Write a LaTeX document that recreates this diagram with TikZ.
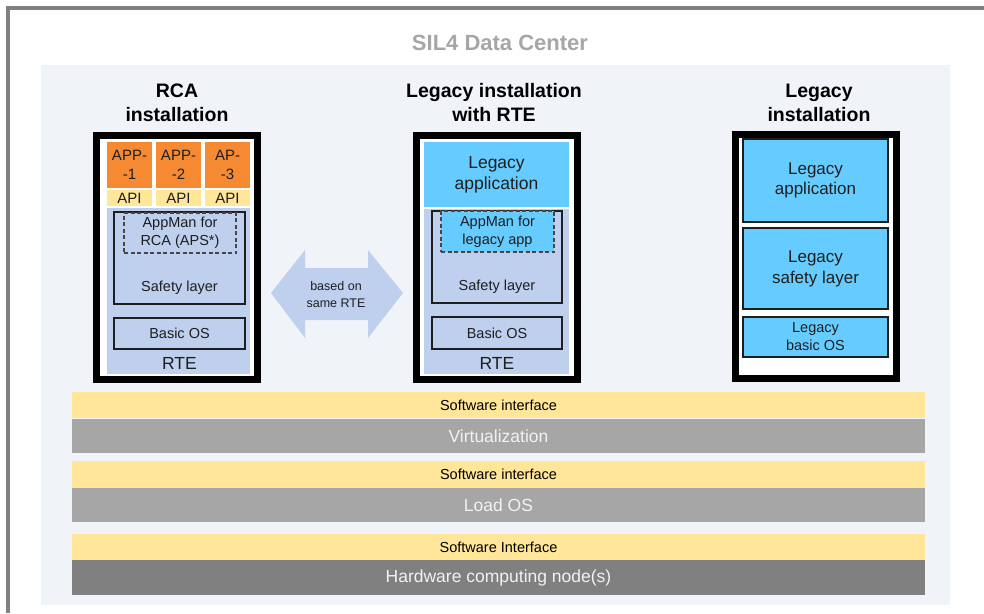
\documentclass[tikz,border=0pt]{standalone}
\usepackage{fontspec}
\setmainfont{Liberation Sans}
\usepackage{tikz}
\usetikzlibrary{positioning}

\definecolor{framegray}{RGB}{128,128,128}
\definecolor{panelbg}{RGB}{240,244,248}
\definecolor{titlegray}{RGB}{166,166,166}
\definecolor{rteblue}{RGB}{190,208,238}
\definecolor{legcyan}{RGB}{102,204,255}
\definecolor{apporange}{RGB}{246,138,51}
\definecolor{ifyellow}{RGB}{255,230,153}
\definecolor{layergray}{RGB}{166,166,166}
\definecolor{hwgray}{RGB}{128,128,128}
\definecolor{txtdark}{RGB}{30,30,30}

\newcommand{\fsz}[2]{\fontsize{#1}{#2}\selectfont}

\tikzset{
	blk/.style={inner sep=0pt, outer sep=0pt, anchor=north west, align=center, text=txtdark, font=\fsz{14.5}{18}},
	instframe/.style={blk, draw=black, line width=7pt, fill=white, minimum width=161pt, minimum height=244pt},
	headline/.style={align=center, inner sep=0pt, font=\bfseries\fsz{19.5}{24}, text=black},
	appbox/.style={blk, fill=apporange, minimum width=45pt, minimum height=46pt, font=\fsz{15}{19}},
	apibox/.style={blk, fill=ifyellow, minimum width=45pt, minimum height=16pt, font=\fsz{15}{18}},
	rtearea/.style={blk, fill=rteblue, minimum width=143pt, minimum height=166pt},
	thinbox/.style={blk, draw=txtdark, line width=1.2pt},
	dashbox/.style={thinbox, draw={rgb,255:red,70;green,70;blue,70}, dash pattern=on 4pt off 2.5pt},
	cyanbox/.style={thinbox, fill=legcyan, minimum width=145pt},
	lbl/.style={inner sep=0pt, outer sep=0pt, align=center, text=txtdark, font=\fsz{14.5}{18}},
	rtelbl/.style={lbl, font=\fsz{17.5}{21}},
	ifband/.style={blk, fill=ifyellow, minimum width=853pt, text=black},
	layerband/.style={blk, fill=layergray, minimum width=853pt, minimum height=34pt, text={rgb,255:red,242;green,242;blue,242}, font=\fsz{17.5}{21}}
}

\begin{document}
\begin{tikzpicture}[x=1pt, y=-1pt]
	\useasboundingbox (0,0) rectangle (984,613);
	\fill[white] (0,0) rectangle (984,613);

	% outer frame and data center panel
	\draw[framegray, line width=4pt] (8,613) -- (8,8) -- (984,8);
	\node[blk, fill=panelbg, minimum width=909pt, minimum height=540pt] (panel) at (41,65) {};
	\node[headline, font=\bfseries\fsz{22}{26}, text=titlegray] (dctitle) at (500,43) {SIL4 Data Center};

	% RCA installation
	\node[headline] (rcatitle) at (177,103) {RCA\\installation};
	\node[instframe] (rcaframe) at (96.5,135.5) {};
	\node[appbox] (app1) at (107,142) {APP-\\-1};
	\node[appbox] (app2) at (156,142) {APP-\\-2};
	\node[appbox] (app3) at (205,142) {AP-\\-3};
	\node[apibox] (api1) at (107,190) {API};
	\node[apibox] (api2) at (156,190) {API};
	\node[apibox] (api3) at (205,190) {API};
	\node[rtearea] (rcarte) at (107,208) {};
	\node[thinbox, minimum width=131pt, minimum height=92pt] (rcasafety) at (114,212) {};
	\node[dashbox, minimum width=112pt, minimum height=40pt] (rcaappman) at (124,213) {AppMan for\\RCA (APS*)};
	\node[lbl, above=9pt of rcasafety.south] (rcasafetylbl) {Safety layer};
	\node[thinbox, minimum width=131pt, minimum height=31pt] (rcaos) at (114,318) {Basic OS};
	\node[rtelbl, below=8pt of rcaos] (rcartelbl) {RTE};

	% Legacy installation with RTE
	\node[headline] (rtetitle) at (494,103) {Legacy installation\\with RTE};
	\node[instframe] (rteframe) at (416.5,135.5) {};
	\node[blk, fill=legcyan, minimum width=145pt, minimum height=65pt, font=\fsz{17.5}{21}] (rteapp) at (424,142) {Legacy\\application};
	\node[rtearea, minimum width=145pt, minimum height=165pt] (rterte) at (424,209) {};
	\node[thinbox, minimum width=130pt, minimum height=92pt] (rtesafety) at (432,211) {};
	\node[dashbox, fill=legcyan, minimum width=113pt, minimum height=41pt] (rteappman) at (441,211) {AppMan for\\legacy app};
	\node[lbl, above=9pt of rtesafety.south] (rtesafetylbl) {Safety layer};
	\node[thinbox, minimum width=130pt, minimum height=32pt] (rteos) at (432,317) {Basic OS};
	\node[rtelbl, below=8pt of rteos] (rtertelbl) {RTE};

	% Legacy installation
	\node[headline] (legtitle) at (819,103) {Legacy\\installation};
	\node[instframe] (legframe) at (735.5,134.5) {};
	\node[cyanbox, minimum height=83pt, font=\fsz{17}{20}] (legapp) at (743,139) {Legacy\\application};
	\node[cyanbox, minimum height=81pt, font=\fsz{17}{21}] (legsafety) at (743,228) {Legacy\\safety layer};
	\node[cyanbox, minimum height=40pt, font=\fsz{14.5}{18}] (legos) at (743,317) {Legacy\\basic OS};

	% common runtime environment (double arrow)
	\fill[rteblue] (271,293) -- (305,250) -- (305,268) -- (368,268) -- (368,250) -- (403,293)
		-- (368,338) -- (368,320) -- (305,320) -- (305,338) -- cycle;
	\node[lbl, font=\fsz{12.5}{17}] (samerte) at (336,295) {based on\\same RTE};

	% platform layers
	\node[ifband, minimum height=26pt] (swif1) at (72,392) {Software interface};
	\node[layerband] (virt) at (72,419) {Virtualization};
	\node[ifband, minimum height=27pt] (swif2) at (72,461) {Software interface};
	\node[layerband] (loados) at (72,488) {Load OS};
	\node[ifband, minimum height=26pt] (swif3) at (72,534) {Software Interface};
	\node[layerband, fill=hwgray, minimum height=35pt] (hwnode) at (72,560) {Hardware computing node(s)};
\end{tikzpicture}
\end{document}
